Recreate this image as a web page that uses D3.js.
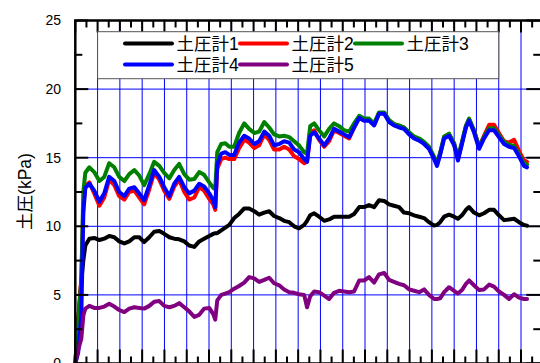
<!DOCTYPE html>
<html>
<head>
<meta charset="utf-8">
<script src="https://cdn.jsdelivr.net/npm/d3@7"></script>
<style>
  html, body { margin: 0; padding: 0; background: #fff; }
  svg { display: block; }
  text { font-family: "Liberation Sans", Arial, "Noto Sans CJK JP", sans-serif; }
</style>
</head>
<body>
<svg id="chart" width="540" height="363"></svg>
<script>
// Elapsed time (grid units) shared by all gauges
const times = [0, 0.13, 0.27, 0.36, 0.45,
  0.63, 0.85, 1.08, 1.30, 1.52, 1.75, 1.97, 2.20, 2.42, 2.65, 2.87, 3.09, 3.32, 3.54, 3.77, 3.99, 4.22, 4.44, 4.66, 4.89, 5.11, 5.34, 5.56, 5.78, 6.01,
  6.19, 6.28, 6.37,
  6.55, 6.73, 6.91,
  7.13, 7.35, 7.58, 7.80, 8.03, 8.25, 8.48, 8.70, 8.92, 9.15, 9.37, 9.60, 9.82, 10.04, 10.27,
  10.40, 10.54,
  10.72, 10.94, 11.17, 11.39, 11.61, 11.84, 12.06, 12.29, 12.51, 12.74, 12.96, 13.18, 13.41, 13.63, 13.86, 14.08, 14.30, 14.53, 14.75, 14.98, 15.20, 15.43, 15.65, 15.87, 16.10,
  16.23, 16.37,
  16.55, 16.77, 17.00,
  17.17, 17.35, 17.53,
  17.67, 17.89, 18.12, 18.34, 18.57, 18.79, 19.01, 19.24, 19.46, 19.69, 19.91, 20.13,
  20.27];

// Earth pressure readings (kPa)
const gauge1 = [0, 3.0, 6.0, 7.5, 8.6,
  9.1, 9.15, 9.0, 9.1, 9.3, 9.2, 8.9, 8.75, 8.9, 9.2, 9.2, 8.85, 9.2, 9.6, 9.65, 9.45, 9.2, 9.1, 9.05, 8.9, 8.6, 8.5, 8.9, 9.1, 9.3,
  9.45, 9.5, 9.5,
  9.7, 9.9, 10.1,
  10.6, 10.9, 11.3, 11.3, 11.1, 10.85, 11.0, 11.1, 10.75, 10.6, 10.4, 10.3, 10.0, 9.85, 10.1,
  10.4, 10.8,
  10.95, 10.7, 10.4, 10.5, 10.7, 10.7, 10.7, 10.7, 10.9, 11.4, 11.4, 11.55, 11.4, 11.9, 11.85, 11.6, 11.5, 11.4, 11.0, 10.95, 10.8, 10.7, 10.6, 10.3, 10.05,
  10.1, 10.3,
  10.7, 10.85, 10.7,
  10.55, 10.8, 11.2,
  11.4, 11.0, 10.8, 10.95, 11.2, 11.2, 10.8, 10.45, 10.5, 10.55, 10.3, 10.1,
  10.05];

const gauge2 = [0, 3.2, 6.2, 11.5, 12.9,
  13.2, 12.4, 11.5, 12.1, 13.4, 13.0, 12.2, 11.95, 12.5, 12.6, 12.1, 11.6, 12.7, 13.9, 13.4, 12.6, 12.0, 12.9, 13.4, 12.5, 11.95, 12.1, 12.85, 12.6, 12.0,
  11.6, 11.2, 14.2,
  14.9, 15.0, 14.9,
  14.9, 15.7, 16.3, 16.1, 15.7, 15.9, 16.7, 16.3, 15.6, 15.6, 15.8, 15.6, 15.1, 14.9, 14.6,
  14.7, 16.7,
  17.0, 16.3, 15.8, 16.2, 17.0, 16.8, 16.6, 16.4, 17.2, 17.9, 17.75, 17.75, 17.4, 18.25, 18.25, 17.7, 17.45, 17.3, 17.2, 16.8, 16.5, 16.35, 16.1, 15.75, 15.0,
  14.5, 15.3,
  16.5, 16.7, 16.0,
  14.9, 16.1, 17.3,
  17.8, 17.0, 15.8, 16.6, 17.4, 17.4, 16.8, 16.2, 16.1, 16.3, 15.5, 14.8,
  14.7];

const gauge3 = [0, 3.0, 6.0, 12.5, 13.9,
  14.3, 13.95, 13.3, 13.6, 14.6, 14.3, 13.6, 13.3, 13.8, 14.1, 13.7, 13.0, 13.8, 14.7, 14.4, 13.9, 13.5, 14.1, 14.55, 13.8, 13.4, 13.45, 13.95, 13.75, 13.2,
  12.8, 12.7, 15.4,
  16.0, 16.05, 15.8,
  15.8, 16.8, 17.5, 17.1, 16.8, 16.9, 17.6, 17.2, 16.7, 16.55, 16.6, 16.5, 16.2, 15.9, 15.4,
  15.3, 17.3,
  17.5, 17.0, 16.55, 17.1, 17.5, 17.3, 17.0, 16.9, 17.5, 18.05, 17.85, 17.85, 17.5, 18.3, 18.3, 17.75, 17.45, 17.35, 17.2, 16.85, 16.55, 16.4, 16.15, 15.8, 15.05,
  14.6, 15.35,
  16.55, 16.75, 16.05,
  15.0, 16.15, 17.35,
  17.85, 17.0, 15.8, 16.5, 17.15, 17.15, 16.65, 16.15, 15.95, 15.85, 15.25, 14.6,
  14.5];

const gauge4 = [0, 0.8, 3.5, 11.0, 12.8,
  13.1, 12.6, 11.8, 12.4, 13.6, 13.3, 12.5, 12.2, 12.75, 12.85, 12.4, 11.9, 13.0, 14.1, 13.6, 12.85, 12.2, 13.1, 13.6, 12.85, 12.4, 12.6, 13.1, 12.9, 12.4,
  11.9, 11.4, 14.5,
  15.3, 15.4, 15.2,
  15.2, 16.1, 16.6, 16.4, 16.0, 16.2, 16.9, 16.6, 15.9, 16.0, 16.2, 16.1, 15.6, 15.4, 14.9,
  14.7, 16.6,
  16.85, 16.4, 15.9, 16.4, 17.1, 16.9, 16.7, 16.5, 17.2, 17.9, 17.7, 17.7, 17.35, 18.2, 18.2, 17.6, 17.35, 17.2, 17.1, 16.7, 16.4, 16.25, 16.0, 15.65, 14.9,
  14.4, 15.2,
  16.4, 16.6, 15.9,
  14.8, 16.0, 17.2,
  17.7, 16.85, 15.65, 16.4, 17.0, 17.0, 16.5, 16.0, 15.8, 15.7, 15.1, 14.4,
  14.3];

const gauge5 = [0, 1.0, 1.8, 3.5, 4.0,
  4.2, 4.05, 4.05, 4.15, 4.35, 4.15, 3.9, 3.75, 4.0, 4.1, 4.05, 4.0, 4.2, 4.5, 4.55, 4.2, 4.1, 4.2, 4.4, 4.1, 3.8, 3.4, 3.55, 4.0, 4.05,
  3.6, 3.2, 4.6,
  5.0, 5.1, 5.2,
  5.45, 5.65, 5.9, 6.3, 6.2, 5.95, 6.1, 6.25, 5.85, 5.7, 5.4, 5.2, 5.15, 5.05, 5.0,
  4.1, 4.9,
  5.25, 5.2, 4.95, 4.7, 5.15, 5.3, 5.25, 5.2, 5.25, 6.05, 6.05, 6.3, 5.9, 6.5, 6.6, 6.1, 5.95, 5.8, 5.7, 5.4, 5.3, 5.2, 5.4, 5.0, 4.7,
  4.7, 4.75,
  5.2, 5.56, 5.3,
  5.1, 5.35, 5.8,
  6.05, 5.7, 5.35, 5.4, 5.75, 5.6, 5.25, 5.0, 4.7, 5.05, 4.8, 4.7,
  4.7];

const seriesNames = ["土圧計1", "土圧計2", "土圧計3", "土圧計4", "土圧計5"];
const seriesValues = [gauge1, gauge2, gauge3, gauge4, gauge5];
const seriesColors = ["#000000", "#ff0000", "#008000", "#0000ff", "#800080"];
const yTickLabels = [0, 5, 10, 15, 20, 25];
const yAxisTitle = "土圧(kPa)";

const svg = d3.select("#chart");
const x = d3.scaleLinear().domain([0, 21]).range([75.3, 543.3]);
const y = d3.scaleLinear().domain([0, 25]).range([363.5, 20.5]);
const [x0, x1] = x.range();
const [yB, yT] = y.range();

// grid
const grid = svg.append("g");
grid.selectAll(".gx").data(d3.range(1, 21)).join("line")
  .attr("x1", d => x(d)).attr("x2", d => x(d))
  .attr("y1", yT).attr("y2", yB)
  .attr("stroke", "#0000ff").attr("stroke-width", 1);
grid.selectAll(".gy").data(yTickLabels.slice(1, -1)).join("line")
  .attr("x1", x0).attr("x2", x1)
  .attr("y1", d => y(d)).attr("y2", d => y(d))
  .attr("stroke", "#0000ff").attr("stroke-width", 1);

// series
const line = d3.line().x((d, i) => x(times[i])).y(d => y(d));
[0, 1, 2, 3, 4].forEach(k => {
  svg.append("path")
    .datum(seriesValues[k])
    .attr("d", line)
    .attr("fill", "none")
    .attr("stroke", seriesColors[k])
    .attr("stroke-width", 4)
    .attr("stroke-linejoin", "round")
    .attr("stroke-linecap", "round");
});

// frame and ticks
const majorX = d3.range(0, 22);
const minorX = d3.range(0.5, 21, 1);
const ySteps = d3.range(0, 25.01, 2.5);
const axes = svg.append("g").attr("stroke", "#000");

function ticks(data, fx1, fy1, fx2, fy2, w) {
  axes.append("g").selectAll("line").data(data).join("line")
    .attr("x1", fx1).attr("y1", fy1).attr("x2", fx2).attr("y2", fy2)
    .attr("stroke-width", w);
}
// top
ticks(majorX, d => x(d), yT, d => x(d), yT + 12, 2);
ticks(minorX, d => x(d), yT, d => x(d), yT + 7, 2);
// bottom
ticks(majorX, d => x(d), yB, d => x(d), yB - 14, 2);
ticks(minorX, d => x(d), yB, d => x(d), yB - 7, 2);
// left
ticks(ySteps, x0, d => y(d), d => x0 + (d % 5 === 0 ? 13 : 7), d => y(d), 2);
// right
ticks(ySteps, x1, d => y(d), d => x1 - (d % 5 === 0 ? 17 : 10), d => y(d), 2);

axes.append("rect")
  .attr("x", x0).attr("y", yT)
  .attr("width", x1 - x0).attr("height", yB - yT)
  .attr("fill", "none").attr("stroke-width", 2.5);

// y labels
svg.append("g").selectAll("text").data(yTickLabels).join("text")
  .attr("x", 61).attr("y", d => y(d))
  .attr("dy", "0.35em")
  .attr("text-anchor", "end")
  .attr("font-size", 14)
  .text(d => d);

svg.append("text")
  .attr("transform", "translate(25,191.5) rotate(-90)")
  .attr("text-anchor", "middle")
  .attr("dy", "0.35em")
  .attr("font-size", 17.5)
  .text(yAxisTitle);

// legend
const lg = svg.append("g");
lg.append("rect")
  .attr("x", x(1)).attr("y", 31.7)
  .attr("width", x(19) - x(1)).attr("height", 47)
  .attr("fill", "#fff").attr("stroke", "#555").attr("stroke-width", 1);
const slots = [[125, 43.5], [240, 43.5], [355, 43.5], [125, 64.5], [240, 64.5]];
seriesNames.forEach((name, k) => {
  const [lx, ly] = slots[k];
  lg.append("line")
    .attr("x1", lx).attr("x2", lx + 47)
    .attr("y1", ly).attr("y2", ly)
    .attr("stroke", seriesColors[k]).attr("stroke-width", 4)
    .attr("stroke-linecap", "round");
  lg.append("text")
    .attr("x", lx + 51.5).attr("y", ly)
    .attr("dy", "0.36em")
    .attr("font-size", 17.5)
    .text(name);
});
</script>
</body>
</html>
